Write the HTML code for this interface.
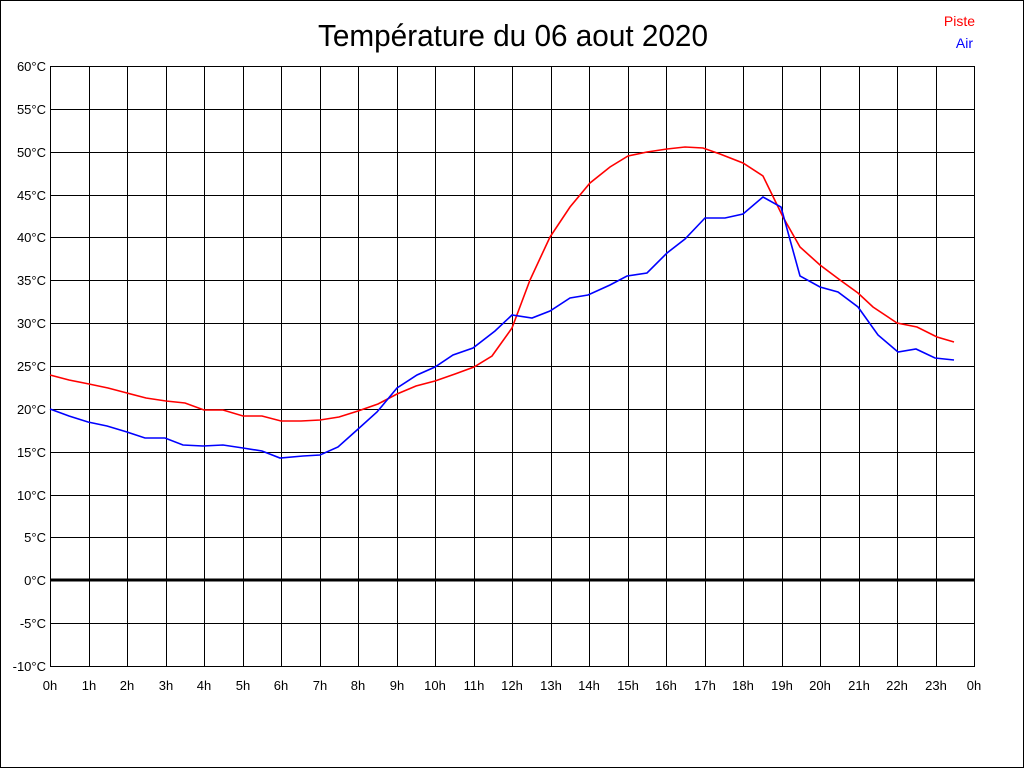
<!DOCTYPE html>
<html><head><meta charset="utf-8"><style>
html,body{margin:0;padding:0;background:#fff}
svg{display:block}
text{font-family:"Liberation Sans",Arial,sans-serif}
</style></head><body>
<svg width="1024" height="768" xmlns="http://www.w3.org/2000/svg">
<rect x="0.5" y="0.5" width="1023" height="767" fill="#fff" stroke="#000" stroke-width="1"/>
<text x="318" y="46" font-size="31" textLength="390" lengthAdjust="spacingAndGlyphs" fill="#000">Température du 06 aout 2020</text>
<text x="975" y="26" font-size="14" text-anchor="end" fill="#f00">Piste</text>
<text x="973" y="48" font-size="14" text-anchor="end" fill="#00f">Air</text>
<g stroke="#000" stroke-width="1" shape-rendering="crispEdges" id="grid"></g>
<g font-size="13" fill="#000" id="labels"></g>
<line x1="50" y1="580" x2="974" y2="580" stroke="#000" stroke-width="3"/>
<polyline fill="none" stroke="#f00" stroke-width="1.6" points="50,375 69,380 89,384 108,388 127,393 146,398 166,401 185,403 204,410 223,410 243,416 262,416 281,421 301,421 320,420 339,417 358,411 378,404 397,394 416,386 435,381 455,374 474,367 492,356 512,328 530,280 550,237 570,207 590,183 610,167 628,156 647,152 667,149 685,147 703,148 720,154 743,163 763,176 783,217 800,247 820,265 840,280 858,293 873,307 897,323 917,327 937,337 954,342"/>
<polyline fill="none" stroke="#00f" stroke-width="1.6" points="50,409 69,416 88,422 107,426 127,432 145,438 165,438 183,445 203,446 223,445 243,448 262,451 280,458 303,456 320,455 338,447 357,430 377,412 397,388 417,375 435,367 453,355 473,348 495,331 512,315 532,318 550,311 570,298 588,295 610,285 627,276 647,273 667,253 685,239 705,218 725,218 743,214 763,197 781,207 800,276 820,287 838,292 858,307 878,335 898,352 916,349 935,358 954,360"/>
</svg>
<script>
var g=document.getElementById('grid'),L=document.getElementById('labels'),ns='http://www.w3.org/2000/svg';
function el(p,t,a,txt){var e=document.createElementNS(ns,t);for(var k in a)e.setAttribute(k,a[k]);if(txt!=null)e.textContent=txt;p.appendChild(e);}
for(var i=0;i<=24;i++){var x=Math.round(50+i*38.5);el(g,'line',{x1:x+0.5,y1:66,x2:x+0.5,y2:666});el(L,'text',{x:x,y:690,'text-anchor':'middle'},(i%24)+'h');}
for(var j=0;j<=14;j++){var y=Math.round(66+j*600/14);el(g,'line',{x1:50,y1:y+0.5,x2:975,y2:y+0.5});el(L,'text',{x:46,y:y+5,'text-anchor':'end'},(60-5*j)+'°C');}
</script>
</body></html>
